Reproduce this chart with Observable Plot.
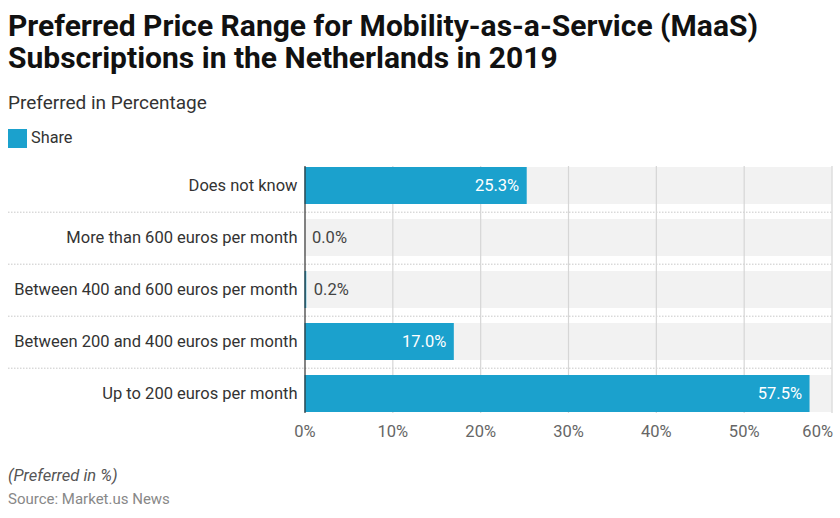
<!DOCTYPE html>
<html>
<head>
<meta charset="utf-8">
<script src="https://cdn.jsdelivr.net/npm/d3@7"></script>
<script src="https://cdn.jsdelivr.net/npm/@observablehq/plot@0.6"></script>
<style>
  html, body { margin: 0; padding: 0; background: #fff; }
  body { width: 840px; height: 518px; position: relative; overflow: hidden; font-family: Roboto, "Noto Sans", sans-serif; }
  .abs { position: absolute; left: 8px; white-space: nowrap; }
  #title { top: 10px; font-size: 30px; line-height: 32px; font-weight: 700; color: #111; }
  #subtitle { top: 92.5px; font-size: 19px; line-height: 1; color: #333; }
  #legend { top: 129.3px; height: 19px; }
  #legend .sw { position: absolute; left: 0; top: 0; width: 18.5px; height: 18.5px; }
  #legend .lb { position: absolute; left: 23px; top: 0.5px; font-size: 16.3px; line-height: 1; color: #333; }
  #chart { position: absolute; left: 0; top: 150px; }
  #note { top: 467.8px; font-size: 16.5px; line-height: 1; font-style: italic; color: #555; }
  #source { top: 492.4px; font-size: 15px; line-height: 1; color: #888; }
</style>
</head>
<body>
<div id="title" class="abs">Preferred Price Range for Mobility-as-a-Service (MaaS)<br>Subscriptions in the Netherlands in 2019</div>
<div id="subtitle" class="abs">Preferred in Percentage</div>
<div id="legend" class="abs"><div class="sw"></div><div class="lb">Share</div></div>
<div id="chart"></div>
<div id="note" class="abs">(Preferred in %)</div>
<div id="source" class="abs">Source: Market.us News</div>
<script>
const categories = [
  "Does not know",
  "More than 600 euros per month",
  "Between 400 and 600 euros per month",
  "Between 200 and 400 euros per month",
  "Up to 200 euros per month"
];
const shares = [25.3, 0.0, 0.2, 17.0, 57.5];
const xTicks = [0, 10, 20, 30, 40, 50, 60];
const seriesName = "Share";
const barColor = "#1ba1cd";

document.querySelector("#legend .sw").style.background = barColor;
document.querySelector("#legend .lb").textContent = seriesName;

const rows = categories.map((c, i) => ({category: c, value: shares[i]}));
const xMax = xTicks[xTicks.length - 1];
const fmt = v => v.toFixed(1) + "%";

const chart = Plot.plot({
  width: 840,
  height: 300,
  marginLeft: 304.5,
  marginRight: 8.5,
  marginTop: 8.5,
  marginBottom: 29.5,
  style: {fontFamily: "Roboto, 'Noto Sans', sans-serif", fontSize: "16px", overflow: "visible", background: "transparent"},
  x: {domain: [0, xMax], ticks: xTicks},
  y: {domain: categories, paddingInner: 0.2857, paddingOuter: 0.1429},
  marks: [
    Plot.barX(rows, {y: "category", x1: 0, x2: xMax, fill: "#f2f2f2"}),
    Plot.ruleY(categories.slice(0, -1), {y: d => d, dy: 26.2, insetLeft: -296.5, stroke: "#c8c8c8", strokeDasharray: "1.5,1.5"}),
    Plot.ruleX(xTicks.slice(1), {x: d => d, stroke: "#d6d6d6", strokeWidth: 1.2, insetTop: 7.5, insetBottom: 7.5}),
    Plot.barX(rows, {y: "category", x: "value", fill: barColor}),
    Plot.ruleX([0], {stroke: "#333", strokeWidth: 1.2, insetTop: 7.5, insetBottom: 7.5}),
    Plot.text(rows.filter(d => d.value > 5), {y: "category", x: "value", text: d => fmt(d.value), textAnchor: "end", dx: -8, fill: "#fff", fontSize: 16.5}),
    Plot.text(rows.filter(d => d.value <= 5), {y: "category", x: "value", text: d => fmt(d.value), textAnchor: "start", dx: 7, fill: "#444", fontSize: 16.5}),
    Plot.axisX({ticks: xTicks.slice(0, -1), tickFormat: d => d + "%", tickSize: 0, tickPadding: 4.5, fill: "#666", label: null, fontSize: 16.5}),
    Plot.axisX({ticks: xTicks.slice(-1), tickFormat: d => d + "%", tickSize: 0, tickPadding: 4.5, fill: "#666", label: null, fontSize: 16.5, textAnchor: "end", dx: 1}),
    Plot.axisY({tickSize: 0, tickPadding: 7.5, fill: "#333", label: null, fontSize: 16.5})
  ]
});
document.getElementById("chart").appendChild(chart);
</script>
</body>
</html>
